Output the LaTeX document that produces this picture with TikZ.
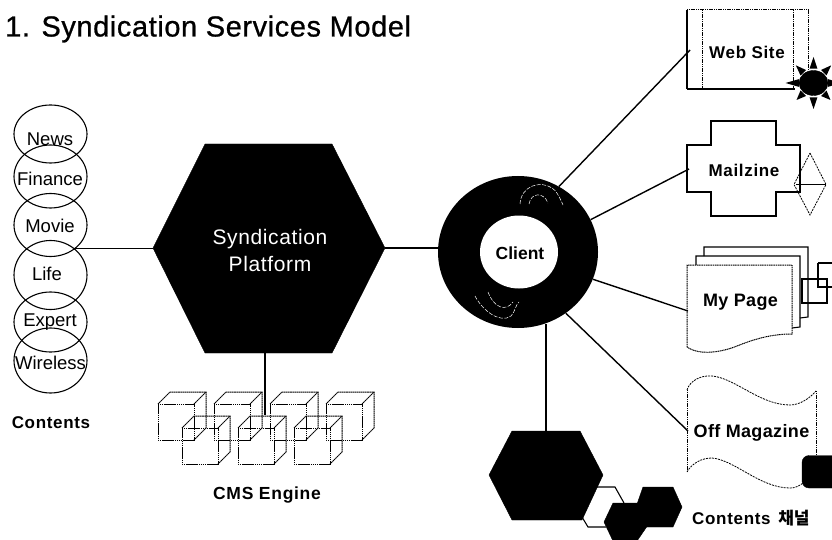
\documentclass[tikz,border=0pt]{standalone}
\usepackage{fontspec}
\setmainfont{Liberation Sans}
\newfontfamily\krfont{Noto Sans CJK KR}
\newfontfamily\widefont[LetterSpace=4]{Liberation Sans}
\newfontfamily\tightfont[LetterSpace=2]{Liberation Sans}
\newfontfamily\wideplain[LetterSpace=3]{Liberation Sans}
\newfontfamily\titlefont[LetterSpace=2,FakeBold=.8]{Liberation Sans}
\usetikzlibrary{shapes.geometric,calc}
\tikzset{
  ball/.style={ellipse,draw=black,line width=1.1pt,minimum width=73pt,inner sep=0pt},
  topic/.style={font=\fontsize{18.5}{20}\selectfont,inner sep=0pt},
  tag/.style={font=\widefont\bfseries\fontsize{17}{19}\selectfont,inner sep=0pt},
  bigtag/.style={font=\tightfont\bfseries\fontsize{18}{20}\selectfont,inner sep=0pt},
  link/.style={draw=black,line width=1.4pt},
  solidline/.style={draw=black,line width=1.1pt},
  dotline/.style={draw=black,line width=1pt,dash pattern=on 1.2pt off .6pt},
  cubeline/.style={draw=black,line width=1pt,dash pattern=on 1.6pt off .5pt},
  fineDash/.style={draw=black,line width=.8pt,dash pattern=on 2pt off 1pt},
  arrowglint/.style={draw=white,line width=.5pt,dash pattern=on 4pt off 1.5pt},
  blackshape/.style={fill=black,draw=black}
}
\newcommand{\cubeedges}[2]{%
  \draw[cubeline] (#1,#2) rectangle ++(36,36);
  \draw[cubeline] (#1,#2) -- ++(12,-12) -- ++(36,0) -- ++(0,36) -- ++(-12,12);
  \draw[cubeline] (#1+36,#2) -- ++(12,-12);
}
\begin{document}
\begin{tikzpicture}[x=1pt,y=-1pt]
\path[use as bounding box] (0,0) rectangle (832,540);
\clip (0,0) rectangle (832,540);
\fill[white] (0,0) rectangle (832,540);

\node[anchor=west,inner sep=0pt,font=\titlefont\fontsize{29}{31}\selectfont] (title) at (5,29) {1. Syndication Services Model};

% contents circles
\node[ball,minimum height=58pt] (cNews) at (50.5,134) {};
\node[ball,minimum height=63pt] (cFin) at (50.5,176.5) {};
\node[ball,minimum height=63pt] (cMovie) at (50.5,225) {};
\node[ball,minimum height=69pt] (cLife) at (50.5,275) {};
\node[ball,minimum height=60pt] (cExp) at (50.5,322) {};
\node[ball,minimum height=65pt] (cWire) at (50.5,360.5) {};
\node[topic] (tNews) at (50,139) {News};
\node[topic] (tFin) at (50,179) {Finance};
\node[topic] (tMovie) at (50,226) {Movie};
\node[topic] (tLife) at (47,274) {Life};
\node[topic] (tExp) at (50,322) {Expert};
\node[topic] (tWire) at (50.5,363) {Wireless};
\node[tag] (tContents) at (51,423) {Contents};

% platform hexagon
\coordinate (hL) at (153,248);
\coordinate (hR) at (385,248);
\coordinate (hB) at (265,353);
\filldraw[blackshape] (hL) -- (205,144) -- (332,144) -- (hR) -- (332,353) -- (205,353) -- cycle;
\node[white,align=center,inner sep=0pt,font=\wideplain\fontsize{21}{27}\selectfont] (platform) at (270,250) {Syndication\\Platform};

% client ring
\node[ellipse,fill=black,minimum width=160pt,minimum height=152pt,inner sep=0pt] (ring) at (518,252) {};
\node[ellipse,fill=white,minimum width=78pt,minimum height=73pt,inner sep=0pt] (hole) at (519,252) {};
\node[font=\bfseries\fontsize{17.5}{19}\selectfont,inner sep=0pt] (client) at (520,253) {Client};
\draw[arrowglint] (520,204) .. controls (521,186) and (540,180) .. (552,188) .. controls (556,190) and (560,198) .. (563,205);
\draw[arrowglint] (529,204) .. controls (531,192) and (544,192) .. (548,203);
\draw[arrowglint] (475,296) .. controls (482,310) and (500,324) .. (511,316) .. controls (515,312) and (516,304) .. (519,302);
\draw[arrowglint] (488,292) .. controls (494,308) and (506,312) .. (513,302);

% channels
\coordinate (webIn) at (690,50);
\coordinate (mailIn) at (689,169);
\coordinate (pageIn) at (688,311);
\coordinate (offIn) at (688,431);
\coordinate (chanIn) at (546,431);

% web site
\draw[solidline] (687,89) -- (687,10);
\draw[dotline] (687,10) -- (808,10) -- (808,70);
\draw[solidline] (687,89) -- (795,89);
\draw[dotline] (702,10) -- (702,89);
\draw[dotline] (793,10) -- (793,89);
\node[tag] (tWeb) at (747,52) {Web Site};
\filldraw[blackshape] (813.5,83) ellipse [x radius=14.5,y radius=12.5];
\foreach \a/\r in {0/27,45/24,90/26,135/24,180/28,225/25,270/26,315/25}{
  \fill[black] (813.5,83) ++(\a:\r) -- ($(813.5,83)+(\a+15:15)$) -- ($(813.5,83)+(\a-15:15)$) -- cycle;
}

% mailzine
\draw[solidline] (711,145) -- (711,121) -- (776,121) -- (776,145) -- (800,145) -- (800,192) -- (776,192) -- (776,216) -- (711,216) -- (711,192) -- (687,192) -- (687,145) -- cycle;
\node[tag] (tMail) at (744,170) {Mailzine};
\draw[fineDash] (810,153) -- (826,184.5) -- (810,215) -- (794,184.5) -- cycle;
\draw[solidline] (796,184.5) -- (826,184.5);

% my page
\draw[solidline] (704,256) -- (704,247) -- (808,247) -- (808,317) -- (800,318);
\draw[solidline] (696,265) -- (696,256) -- (800,256) -- (800,327) -- (792,328);
\draw[dotline,fill=white] (687,347) -- (687,265) -- (792,265) -- (792,334) .. controls (770,334) and (752,340) .. (737,346) .. controls (722,352) and (700,356) .. (687,347);
\draw[solidline] (802,279) rectangle (827,303);
\draw[solidline] (818,263) -- (832,263);
\draw[solidline] (832,287) -- (818,287) -- (818,263);
\node[bigtag] (tPage) at (740.5,302) {My Page};

% off magazine
\draw[fineDash] (687,390) .. controls (690,380) and (702,375) .. (712,376) .. controls (735,378) and (760,405) .. (790,405) .. controls (800,405) and (810,398) .. (816,391);
\draw[dotline] (816,391) -- (816,456);
\draw[dotline] (687,390) -- (687,472);
\draw[fineDash] (687,472) .. controls (692,463) and (702,458) .. (712,458) .. controls (735,460) and (760,488) .. (790,488) .. controls (795,488) and (800,486) .. (804,482);
\node[bigtag] (tOff) at (751.5,433) {Off Magazine};
\filldraw[blackshape,rounded corners=7pt] (802,455.5) rectangle (845,488);

% channel hexagons
\draw[solidline] (597,487) -- (615,487) -- (624,503);
\draw[solidline] (582,517) -- (588,527) -- (606,527);
\filldraw[blackshape] (489,475) -- (512,431) -- (580,431) -- (603,475) -- (582,520) -- (512,520) -- cycle;
\filldraw[blackshape] (636,507) -- (643,487) -- (673,487) -- (682,507) -- (673,527) -- (643,527) -- cycle;
\filldraw[blackshape] (604,522) -- (613,503) -- (637,503) -- (650,522) -- (637,541) -- (613,541) -- cycle;
\node[tag,anchor=west] (tChan) at (692,518) {Contents\hspace{.45em}{\krfont\fontsize{17}{19}\selectfont 채널}};

% cms cubes
\coordinate (cmsTop) at (265,415);
\cubeedges{158}{404}
\cubeedges{214}{404}
\cubeedges{270}{404}
\cubeedges{326}{404}
\cubeedges{182}{428}
\cubeedges{238}{428}
\cubeedges{294}{428}
\node[tag,font=\widefont\bfseries\fontsize{17.5}{19}\selectfont] (tCms) at (267,495) {CMS Engine};

% connectors
\coordinate (contentsOut) at (75,248);
\draw[link,line width=1pt] (contentsOut) -- (hL);
\draw[link] (hR) -- (ring.west |- hR);
\draw[link] (hB) -- (cmsTop);
\draw[link] (ring.58) -- (webIn);
\draw[link] (ring.24) -- (mailIn);
\draw[link] (ring.-20) -- (pageIn);
\draw[link] (ring.-52) -- (offIn);
\draw[link] (chanIn |- ring.-70) -- (chanIn);
\end{tikzpicture}
\end{document}
